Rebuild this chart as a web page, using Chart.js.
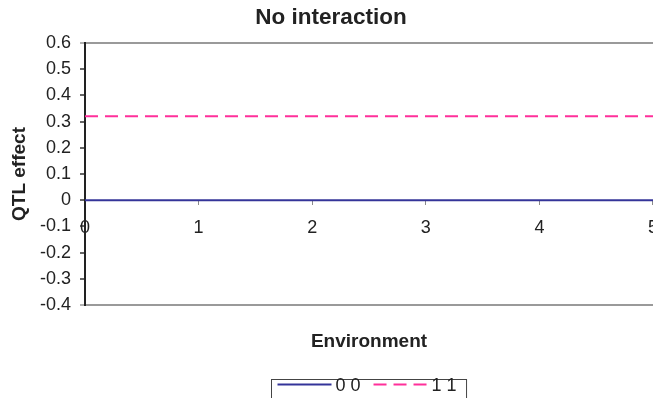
<!DOCTYPE html>
<html>
<head>
<meta charset="utf-8">
<script src="https://cdn.jsdelivr.net/npm/chart.js@4.4.1/dist/chart.umd.min.js"></script>
<style>
  html, body { margin: 0; padding: 0; background: #fff; overflow: hidden; width: 653px; height: 398px; }
  #wrap { position: absolute; left: 0; top: 0; width: 670px; height: 398px; }
</style>
</head>
<body>
<div id="wrap"><canvas id="c" width="670" height="398"></canvas></div>
<script>
// QTL effect of each genotype class across environments
const environments = [0, 1, 2, 3, 4, 5];
const qtlEffect00 = [0, 0, 0, 0, 0, 0];
const qtlEffect11 = [0.32, 0.32, 0.32, 0.32, 0.32, 0.32];
const seriesLabels = ['0 0', '1 1'];

const yTickValues = [-0.4, -0.3, -0.2, -0.1, 0, 0.1, 0.2, 0.3, 0.4, 0.5, 0.6];
const yTickLabels = ['-0.4', '-0.3', '-0.2', '-0.1', '0', '0.1', '0.2', '0.3', '0.4', '0.5', '0.6'];
const xTickValues = [0, 1, 2, 3, 4, 5];
const xTickLabels = ['0', '1', '2', '3', '4', '5'];

const chartTitle = 'No interaction';
const xAxisTitle = 'Environment';
const yAxisTitle = 'QTL effect';

const FONT = '"Liberation Sans", Arial, Helvetica, sans-serif';
const INK = '#222';
const FRAME_GREY = '#9a9a9a';

const toPoints = ys => environments.map((x, i) => ({ x, y: ys[i] }));
const isFrameValue = v => v !== undefined && (Math.abs(v - 0.6) < 1e-9 || Math.abs(v + 0.4) < 1e-9);

// Title, x-axis title and the boxed legend
const chartText = {
  id: 'chartText',
  afterDraw(chart) {
    const { ctx, chartArea } = chart;
    const cx = (chartArea.left + chartArea.right) / 2;
    ctx.save();
    ctx.fillStyle = INK;
    ctx.textAlign = 'center';
    ctx.textBaseline = 'alphabetic';

    ctx.font = 'bold 22.5px ' + FONT;
    ctx.fillText(chartTitle, 331, 23.5);

    ctx.font = 'bold 19px ' + FONT;
    ctx.fillText(xAxisTitle, cx, 346.5);

    // legend
    ctx.font = '18px ' + FONT;
    const sample = 54, gapText = 4, gapItem = 13, padL = 6, padR = 10;
    const items = chart.data.datasets.map(ds => ({
      ds, w: ctx.measureText(ds.label).width
    }));
    let total = padL + padR;
    items.forEach((it, i) => { total += sample + gapText + it.w + (i ? gapItem : 0); });
    const boxL = Math.round(cx - total / 2) + 0.5;
    const boxT = 379.5;
    ctx.strokeStyle = '#444';
    ctx.lineWidth = 1;
    ctx.strokeRect(boxL, boxT, total, 40);

    let x = boxL + padL;
    const lineY = 384.5;
    items.forEach((it, i) => {
      if (i) x += gapItem;
      ctx.save();
      ctx.strokeStyle = it.ds.borderColor;
      ctx.lineWidth = it.ds.borderWidth;
      ctx.setLineDash(it.ds.borderDash || []);
      ctx.beginPath();
      ctx.moveTo(x, lineY);
      ctx.lineTo(x + sample, lineY);
      ctx.stroke();
      ctx.restore();
      x += sample + gapText;
      ctx.textAlign = 'left';
      ctx.fillStyle = INK;
      ctx.fillText(it.ds.label, x, 391);
      x += it.w;
    });
    ctx.restore();
  }
};

new Chart(document.getElementById('c'), {
  type: 'line',
  data: {
    datasets: [
      {
        label: seriesLabels[0],
        data: toPoints(qtlEffect00),
        borderColor: '#343499',
        borderWidth: 2,
        pointRadius: 0,
        fill: false,
        tension: 0
      },
      {
        label: seriesLabels[1],
        data: toPoints(qtlEffect11),
        borderColor: '#ff2f9a',
        borderWidth: 2,
        borderDash: [13, 7],
        pointRadius: 0,
        fill: false,
        tension: 0
      }
    ]
  },
  options: {
    responsive: false,
    animation: false,
    events: [],
    layout: { padding: { left: 0, right: 15, top: 43, bottom: 93 } },
    plugins: {
      legend: { display: false },
      title: { display: false },
      tooltip: { enabled: false }
    },
    scales: {
      x: {
        type: 'linear',
        min: 0,
        max: 5,
        position: { y: 0 },
        afterBuildTicks: s => { s.ticks = xTickValues.map(v => ({ value: v })); },
        ticks: {
          callback: (v, i) => xTickLabels[i],
          font: { family: FONT, size: 18 },
          color: INK,
          padding: 12,
          maxRotation: 0,
          autoSkip: false
        },
        grid: {
          drawOnChartArea: false,
          drawTicks: true,
          tickLength: 5,
          tickColor: '#8a8a8a',
          lineWidth: 1
        },
        border: { display: false }
      },
      y: {
        type: 'linear',
        min: -0.4,
        max: 0.6,
        afterBuildTicks: s => { s.ticks = yTickValues.map(v => ({ value: v })); },
        afterFit: s => { s.width = 85; },
        ticks: {
          callback: (v, i) => yTickLabels[i],
          font: { family: FONT, size: 18 },
          color: INK,
          padding: 9
        },
        grid: {
          color: c => isFrameValue(c.tick && c.tick.value) ? FRAME_GREY : 'rgba(0,0,0,0)',
          lineWidth: 2,
          drawTicks: true,
          tickLength: 5,
          tickColor: c => isFrameValue(c.tick && c.tick.value) ? FRAME_GREY : '#333',
          tickWidth: 1.5
        },
        border: { color: INK, width: 2 },
        title: {
          display: true,
          text: yAxisTitle,
          font: { family: FONT, size: 19, weight: 'bold' },
          color: INK,
          padding: { top: 8, bottom: 0 }
        }
      }
    }
  },
  plugins: [chartText]
});
</script>
</body>
</html>
